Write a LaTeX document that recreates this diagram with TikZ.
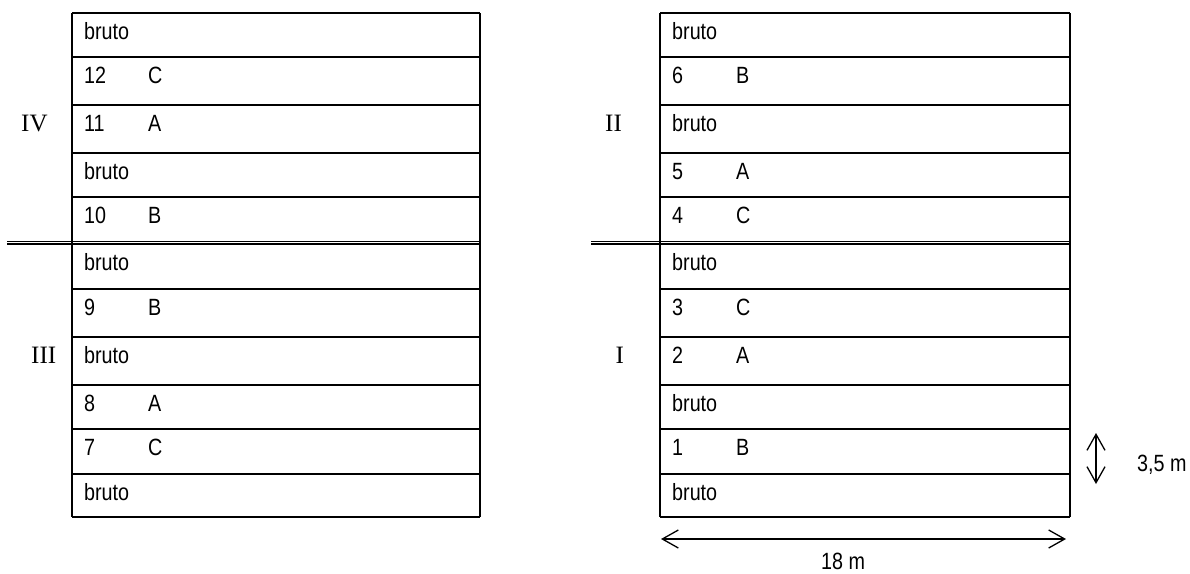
\documentclass[tikz,border=0pt]{standalone}
\usepackage{fontspec}
\newfontfamily\sansf[FakeStretch=0.84]{Liberation Sans}
\newfontfamily\serf{Liberation Serif}
\usetikzlibrary{arrows.meta}
\begin{document}
\begin{tikzpicture}[x=1pt,y=-1pt,
  boxline/.style={line width=1.8pt},
  dblline/.style={line width=1.2pt},
  lbl/.style={font=\sansf\fontsize{23.5}{26}\selectfont, anchor=base west, inner sep=0pt},
  rom/.style={font=\serf\fontsize{25}{28}\selectfont, anchor=base west, inner sep=0pt},
  dimline/.style={line width=1.3pt, {Straight Barb[length=16pt,width=18pt,line width=1.3pt]}-{Straight Barb[length=16pt,width=18pt,line width=1.3pt]}}]
\useasboundingbox (0,0) rectangle (1190,573);
% ---- left block (x 72..480), right block (x 660..1070)
\foreach \xa/\xb/\xs in {72/480/7, 660/1070/591}{
  \draw[boxline] (\xa,13) -- (\xa,517);
  \draw[boxline] (\xb,13) -- (\xb,517);
  \foreach \yy in {13,57,105,153,197,289,337,385,429,474,517}
    \draw[boxline] (\xa,\yy) -- (\xb,\yy);
  \draw[dblline] (\xs,241.2) -- (\xb,241.2);
  \draw[dblline] (\xs,244.0) -- (\xb,244.0);
}
% ---- row texts, left block
\foreach \n/\yy/\cnum/\cltr in {1/39/bruto/{}, 2/83/12/C, 3/131/11/A, 4/179/bruto/{}, 5/223/10/B,
  6/270/bruto/{}, 7/315/9/B, 8/363/bruto/{}, 9/411/8/A, 10/455/7/C, 11/500/bruto/{}}{
  \node[lbl] (Lnum\n) at (84,\yy) {\cnum};
  \node[lbl] (Lltr\n) at (148,\yy) {\cltr};
}
% ---- row texts, right block
\foreach \n/\yy/\cnum/\cltr in {1/39/bruto/{}, 2/83/6/B, 3/131/bruto/{}, 4/179/5/A, 5/223/4/C,
  6/270/bruto/{}, 7/315/3/C, 8/363/2/A, 9/411/bruto/{}, 10/455/1/B, 11/500/bruto/{}}{
  \node[lbl] (Rnum\n) at (672,\yy) {\cnum};
  \node[lbl] (Rltr\n) at (736,\yy) {\cltr};
}
% ---- block numerals
\node[rom] (IV) at (21,131) {IV};
\node[rom] (III) at (31,363) {III};
\node[rom] (II) at (605,131) {II};
\node[rom] (I) at (615.5,363) {I};
% ---- dimensions
\coordinate (hl) at (661,539);
\coordinate (hr) at (1066,539);
\draw[dimline] (hl) -- (hr);
\node[lbl] (w18) at (821,569) {18 m};
\coordinate (vt) at (1096,433);
\coordinate (vb) at (1096,484);
\draw[dimline] (vt) -- (vb);
\node[lbl] (h35) at (1137,471) {3,5 m};
\end{tikzpicture}
\end{document}
